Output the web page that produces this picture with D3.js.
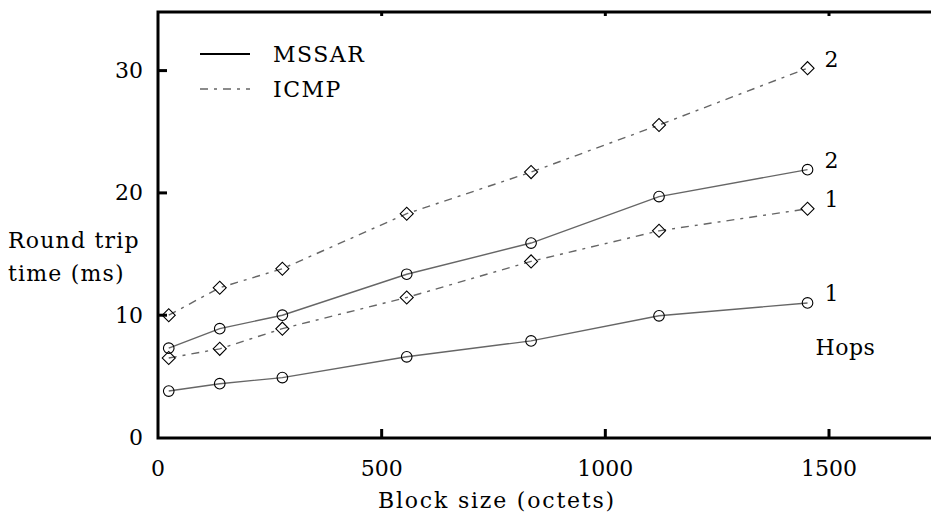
<!DOCTYPE html>
<html>
<head>
<meta charset="utf-8">
<script src="https://cdn.jsdelivr.net/npm/d3@7"></script>
<style>
  html, body { margin: 0; padding: 0; background: #fff; }
  text { font-family: "DejaVu Serif"; }
</style>
</head>
<body>
<svg id="chart" width="931" height="517"></svg>
<script>
// block sizes (octets)
const blockSizes = [24, 138, 278, 556, 834, 1120, 1452];

// round trip times (ms)
const mssar1 = [3.8, 4.4, 4.9, 6.6, 7.9, 9.95, 11.0];
const mssar2 = [7.3, 8.9, 10.0, 13.35, 15.9, 19.7, 21.9];
const icmp1 = [6.5, 7.25, 8.9, 11.45, 14.4, 16.9, 18.7];
const icmp2 = [10.0, 12.25, 13.8, 18.3, 21.7, 25.55, 30.2];

const xTicks = [0, 500, 1000, 1500];
const yTicks = [0, 10, 20, 30];

const series = [
  { name: 'MSSAR', hops: '2', values: mssar2, marker: 'circle' },
  { name: 'MSSAR', hops: '1', values: mssar1, marker: 'circle' },
  { name: 'ICMP', hops: '2', values: icmp2, marker: 'diamond' },
  { name: 'ICMP', hops: '1', values: icmp1, marker: 'diamond' },
];

const svg = d3.select('#chart');
const frame = { left: 158, top: 12, right: 940, bottom: 438 };

const x = d3.scaleLinear().domain([0, 1500]).range([158, 829]);
const y = d3.scaleLinear().domain([0, 30]).range([437.5, 70.6]);

const dashFor = (name) => (name === 'ICMP' ? '8,6,3,6' : null);

const addText = (sel) => sel
  .attr('font-size', 22)
  .attr('fill', '#000')
  .attr('dominant-baseline', 'central');

// lines
const line = d3.line()
  .x((d) => x(d[0]))
  .y((d) => y(d[1]));

series.forEach((s) => {
  const pts = blockSizes.map((b, i) => [b, s.values[i]]);
  svg.append('path')
    .datum(pts)
    .attr('fill', 'none')
    .attr('stroke', '#666')
    .attr('stroke-width', 1.4)
    .attr('stroke-dasharray', dashFor(s.name))
    .attr('d', line);

  const g = svg.append('g');
  if (s.marker === 'circle') {
    g.selectAll('circle')
      .data(pts)
      .join('circle')
      .attr('cx', (d) => x(d[0]))
      .attr('cy', (d) => y(d[1]))
      .attr('r', 5.3)
      .attr('fill', 'none')
      .attr('stroke', '#000')
      .attr('stroke-width', 1.1);
  } else {
    g.selectAll('path')
      .data(pts)
      .join('path')
      .attr('d', d3.symbol(d3.symbolSquare, 85))
      .attr('transform', (d) => `translate(${x(d[0])},${y(d[1])}) rotate(45)`)
      .attr('fill', 'none')
      .attr('stroke', '#000')
      .attr('stroke-width', 1.1);
  }

  // hop count label at the end of the line
  const last = pts[pts.length - 1];
  svg.append('text')
    .call(addText)
    .attr('x', x(last[0]) + 17)
    .attr('y', y(last[1]) - 9)
    .text(s.hops);
});

svg.append('text')
  .call(addText)
  .attr('x', x(1452) + 8)
  .attr('y', 347)
  .attr('letter-spacing', 0.5)
  .text('Hops');

// frame
svg.append('rect')
  .attr('x', frame.left)
  .attr('y', frame.top)
  .attr('width', frame.right - frame.left)
  .attr('height', frame.bottom - frame.top)
  .attr('fill', 'none')
  .attr('stroke', '#000')
  .attr('stroke-width', 3);

// ticks (inward on all sides)
const tickLen = 9;
svg.append('g').selectAll('line')
  .data(xTicks.slice(1))
  .join('line')
  .attr('x1', (d) => x(d)).attr('x2', (d) => x(d))
  .attr('y1', frame.bottom).attr('y2', frame.bottom - tickLen)
  .attr('stroke', '#000').attr('stroke-width', 3);
svg.append('g').selectAll('line')
  .data(xTicks.slice(1))
  .join('line')
  .attr('x1', (d) => x(d)).attr('x2', (d) => x(d))
  .attr('y1', frame.top).attr('y2', frame.top + 4)
  .attr('stroke', '#000').attr('stroke-width', 3);
svg.append('g').selectAll('line')
  .data(yTicks.slice(1))
  .join('line')
  .attr('x1', frame.left).attr('x2', frame.left + tickLen)
  .attr('y1', (d) => y(d)).attr('y2', (d) => y(d))
  .attr('stroke', '#000').attr('stroke-width', 3);
svg.append('g').selectAll('line')
  .data(yTicks.slice(1))
  .join('line')
  .attr('x1', frame.right).attr('x2', frame.right - tickLen)
  .attr('y1', (d) => y(d)).attr('y2', (d) => y(d))
  .attr('stroke', '#000').attr('stroke-width', 3);

// tick labels
svg.append('g').selectAll('text')
  .data(xTicks)
  .join('text')
  .call(addText)
  .attr('x', (d) => x(d))
  .attr('y', 468)
  .attr('text-anchor', 'middle')
  .text((d) => d);
svg.append('g').selectAll('text')
  .data(yTicks)
  .join('text')
  .call(addText)
  .attr('x', 143)
  .attr('y', (d) => y(d))
  .attr('text-anchor', 'end')
  .text((d) => d);

// axis titles
svg.append('text')
  .call(addText)
  .attr('x', 497)
  .attr('y', 500)
  .attr('text-anchor', 'middle')
  .attr('letter-spacing', 1.8)
  .text('Block size (octets)');
svg.append('text')
  .call(addText)
  .attr('x', 8)
  .attr('y', 240)
  .attr('letter-spacing', 1.2)
  .text('Round trip');
svg.append('text')
  .call(addText)
  .attr('x', 8)
  .attr('y', 273)
  .attr('letter-spacing', 1.2)
  .text('time (ms)');

// legend
const legend = [
  { name: 'MSSAR', color: '#000', width: 2 },
  { name: 'ICMP', color: '#666', width: 1.5 },
];
const lg = svg.append('g').selectAll('g')
  .data(legend)
  .join('g')
  .attr('transform', (d, i) => `translate(200,${54 + i * 35})`);
lg.append('line')
  .attr('x1', 0).attr('x2', 50)
  .attr('stroke', (d) => d.color)
  .attr('stroke-width', (d) => d.width)
  .attr('stroke-dasharray', (d) => dashFor(d.name));
lg.append('text')
  .call(addText)
  .attr('x', 73)
  .attr('letter-spacing', 1.5)
  .text((d) => d.name);
</script>
</body>
</html>
